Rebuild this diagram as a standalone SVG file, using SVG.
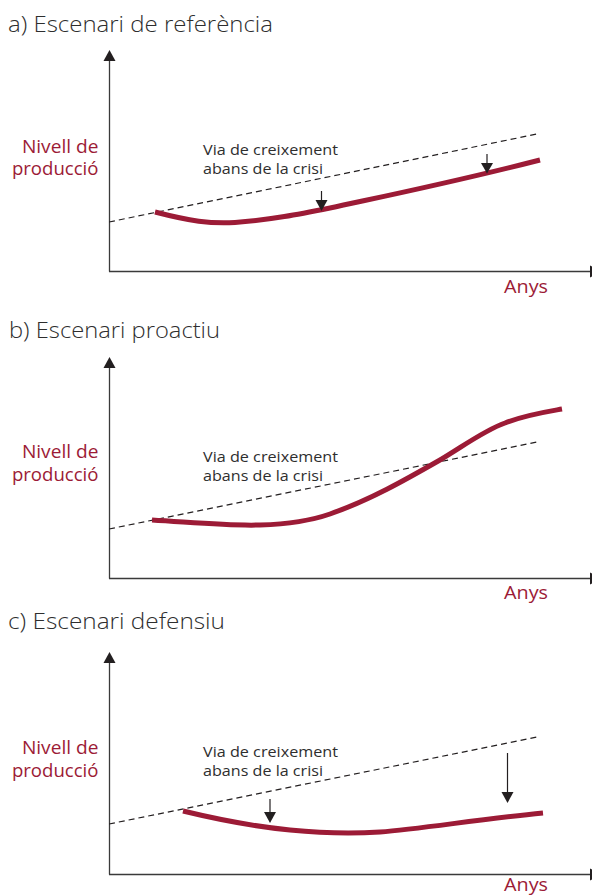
<svg xmlns="http://www.w3.org/2000/svg" width="592" height="896" viewBox="0 0 592 896">
<style>
.title{font-family:"Open Sans","Liberation Sans",Arial,sans-serif;font-weight:300;font-size:21.5px;fill:#2e2e2e}
.ylab{font-family:"Open Sans","Liberation Sans",Arial,sans-serif;font-size:17.5px;fill:#9c1b36;text-anchor:end}
.xlab{font-family:"Open Sans","Liberation Sans",Arial,sans-serif;font-size:17.5px;fill:#9c1b36}
.note{font-family:"Open Sans","Liberation Sans",Arial,sans-serif;font-size:14px;fill:#2e2e2e}
.axis{stroke:#3a3a3a;stroke-width:1.3;fill:none}
.head{fill:#231f20}
.dash{stroke:#231f20;stroke-width:1.2;stroke-dasharray:6 4;fill:none}
.curve{stroke:#9c1b36;stroke-width:5;fill:none;stroke-linecap:butt;stroke-linejoin:round}
.drop{stroke:#231f20;stroke-width:1.2;fill:none}
</style>
<rect width="592" height="896" fill="#ffffff"/>

<!-- Panel a -->
<g id="panel-a">
  <text id="title-a" class="title" x="8" y="32" textLength="265" lengthAdjust="spacingAndGlyphs">a) Escenari de referència</text>
  <g id="axes-a">
    <line class="axis" x1="109.5" y1="60" x2="109.5" y2="271.5"/>
    <polygon class="head" points="103.5,61 115.5,61 109.5,50"/>
    <line class="axis" x1="109" y1="271.5" x2="591" y2="271.5"/>
    <polygon class="head" points="590,265.5 590,277.5 601,271.5"/>
  </g>
  <g id="ylabel-a">
    <text class="ylab" x="98.5" y="153" textLength="76.6" lengthAdjust="spacingAndGlyphs">Nivell de</text>
    <text class="ylab" x="98.5" y="175" textLength="86.6" lengthAdjust="spacingAndGlyphs">producció</text>
  </g>
  <g id="xlabel-a"><text class="xlab" x="504" y="293" textLength="44" lengthAdjust="spacingAndGlyphs">Anys</text></g>
  <g id="trend-a">
    <line class="dash" x1="109" y1="222" x2="537" y2="134"/>
    <text class="note" x="203" y="155" textLength="135" lengthAdjust="spacingAndGlyphs">Via de creixement</text>
    <text class="note" x="203" y="174" textLength="120" lengthAdjust="spacingAndGlyphs">abans de la crisi</text>
  </g>
  <g id="output-a">
    <path class="curve" d="M155,212 C190,221 210,224 235,222.5 C270,220 300,214 330,208 C390,195 450,183 540,160"/>
  </g>
</g>

<!-- Panel b -->
<g id="panel-b">
  <text id="title-b" class="title" x="9" y="338" textLength="211" lengthAdjust="spacingAndGlyphs">b) Escenari proactiu</text>
  <g id="axes-b">
    <line class="axis" x1="109.5" y1="367" x2="109.5" y2="578.5"/>
    <polygon class="head" points="103.5,368 115.5,368 109.5,357"/>
    <line class="axis" x1="109" y1="578.5" x2="591" y2="578.5"/>
    <polygon class="head" points="590,572.5 590,584.5 601,578.5"/>
  </g>
  <g id="ylabel-b">
    <text class="ylab" x="98.5" y="458" textLength="76.6" lengthAdjust="spacingAndGlyphs">Nivell de</text>
    <text class="ylab" x="98.5" y="481" textLength="86.6" lengthAdjust="spacingAndGlyphs">producció</text>
  </g>
  <g id="xlabel-b"><text class="xlab" x="504" y="599" textLength="44" lengthAdjust="spacingAndGlyphs">Anys</text></g>
  <g id="trend-b">
    <line class="dash" x1="109" y1="529" x2="537" y2="442"/>
    <text class="note" x="203" y="462" textLength="135" lengthAdjust="spacingAndGlyphs">Via de creixement</text>
    <text class="note" x="203" y="481" textLength="120" lengthAdjust="spacingAndGlyphs">abans de la crisi</text>
  </g>
  <g id="output-b">
    <path class="curve" d="M152,520 C200,523 230,526 260,525 C290,524 310,521 330,514 C370,500 405,480 440,460 C465,445 485,430 505,423 C525,415 545,412 562,409"/>
  </g>
</g>

<!-- Panel c -->
<g id="panel-c">
  <text id="title-c" class="title" x="8" y="629" textLength="217" lengthAdjust="spacingAndGlyphs">c) Escenari defensiu</text>
  <g id="axes-c">
    <line class="axis" x1="109.5" y1="662" x2="109.5" y2="874.5"/>
    <polygon class="head" points="103.5,663 115.5,663 109.5,652"/>
    <line class="axis" x1="109" y1="874.5" x2="591" y2="874.5"/>
    <polygon class="head" points="590,868.5 590,880.5 601,874.5"/>
  </g>
  <g id="ylabel-c">
    <text class="ylab" x="98.5" y="754" textLength="76.6" lengthAdjust="spacingAndGlyphs">Nivell de</text>
    <text class="ylab" x="98.5" y="777" textLength="86.6" lengthAdjust="spacingAndGlyphs">producció</text>
  </g>
  <g id="xlabel-c"><text class="xlab" x="504" y="891" textLength="44" lengthAdjust="spacingAndGlyphs">Anys</text></g>
  <g id="trend-c">
    <line class="dash" x1="109" y1="824" x2="537" y2="737"/>
    <text class="note" x="203" y="757" textLength="135" lengthAdjust="spacingAndGlyphs">Via de creixement</text>
    <text class="note" x="203" y="776" textLength="120" lengthAdjust="spacingAndGlyphs">abans de la crisi</text>
  </g>
  <g id="output-c">
    <path class="curve" d="M183,811 C220,820 250,826 290,830 C320,833 350,834 380,832 C420,829 480,819 543,813"/>
  </g>
</g>

<!-- Connectors: gap arrows -->
<g id="connectors">
  <line class="drop" x1="321.5" y1="191" x2="321.5" y2="201"/>
  <polygon class="head" points="315.5,200 327.5,200 321.5,211"/>
  <line class="drop" x1="487" y1="154" x2="487" y2="164"/>
  <polygon class="head" points="481,163 493,163 487,173.5"/>
  <line class="drop" x1="270" y1="799" x2="270" y2="813"/>
  <polygon class="head" points="264,812 276,812 270,823"/>
  <line class="drop" x1="507.5" y1="753" x2="507.5" y2="793"/>
  <polygon class="head" points="501.5,792 513.5,792 507.5,803"/>
</g>
</svg>
